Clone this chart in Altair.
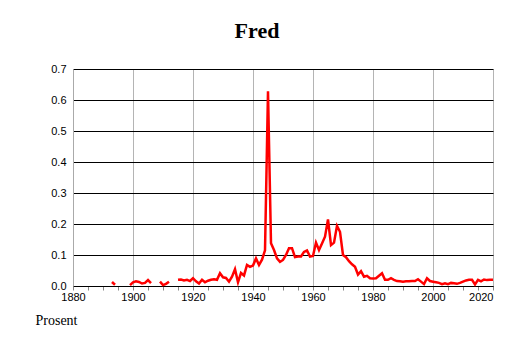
import altair as alt
import pandas as pd

# Segments of the series (gaps between them are missing years)
years_a = [1893, 1894]
vals_a = [0.013, 0.004]

years_b = [1899, 1900, 1901, 1902, 1903, 1904, 1905, 1906]
vals_b = [0.003, 0.012, 0.015, 0.013, 0.008, 0.010, 0.019, 0.009]

years_c = [1909, 1910, 1911, 1912]
vals_c = [0.014, 0.003, 0.007, 0.014]

years_d = list(range(1915, 2021))
vals_d = [
    0.020, 0.021, 0.018, 0.020, 0.016,                                  # 1915-1919
    0.025, 0.015, 0.008, 0.020, 0.012, 0.017, 0.020, 0.022, 0.020, 0.041,  # 1920s
    0.028, 0.026, 0.014, 0.030, 0.054, 0.012, 0.042, 0.034, 0.068, 0.062,  # 1930s
    0.066, 0.089, 0.068, 0.085, 0.115, 0.628, 0.138, 0.116, 0.089, 0.078,  # 1940s
    0.084, 0.100, 0.122, 0.122, 0.093, 0.095, 0.095, 0.110, 0.115, 0.095,  # 1950s
    0.097, 0.140, 0.116, 0.137, 0.159, 0.215, 0.132, 0.140, 0.194, 0.175,  # 1960s
    0.100, 0.093, 0.080, 0.070, 0.062, 0.037, 0.048, 0.030, 0.033, 0.025,  # 1970s
    0.024, 0.025, 0.033, 0.041, 0.020, 0.020, 0.025, 0.020, 0.016, 0.015,  # 1980s
    0.014, 0.015, 0.015, 0.016, 0.016, 0.022, 0.014, 0.006, 0.025, 0.016,  # 1990s
    0.014, 0.012, 0.010, 0.006, 0.009, 0.006, 0.010, 0.009, 0.007, 0.010,  # 2000s
    0.014, 0.018, 0.020, 0.020, 0.005, 0.020, 0.015, 0.021, 0.019, 0.020,  # 2010s
    0.020,                                                              # 2020
]

x_ticks = list(range(1880, 2021, 5))
y_ticks = [0.0, 0.1, 0.2, 0.3, 0.4, 0.5, 0.6, 0.7]

rows = []
for seg, (ys, vs) in enumerate([(years_a, vals_a), (years_b, vals_b),
                                (years_c, vals_c), (years_d, vals_d)]):
    for y, v in zip(ys, vs):
        rows.append({"year": y, "value": v, "seg": seg})
df = pd.DataFrame(rows)

chart = alt.Chart(df).mark_line(color="#ff0000", strokeWidth=2.5).encode(
    x=alt.X("year:Q",
            scale=alt.Scale(domain=[1880, 2020], nice=False, zero=False),
            axis=alt.Axis(values=x_ticks, title=None,
                          labelExpr="datum.value % 20 == 0 ? datum.label : ''",
                          labelAlign=alt.expr("datum.value == 2020 ? 'right' : 'center'"),
                          format="d",
                          gridColor="#b4b4b4",
                          gridOpacity=alt.expr("datum.value % 20 == 0 ? 1 : 0"),
                          tickColor="#888888", tickSize=4,
                          domainColor="#000000",
                          labelFont="Liberation Sans", labelFontSize=11,
                          labelColor="#000000", labelPadding=1)),
    y=alt.Y("value:Q",
            scale=alt.Scale(domain=[0, 0.7], nice=False),
            axis=alt.Axis(values=y_ticks, format=".1f",
                          title="Prosent", titleAngle=0, titleAlign="left",
                          titleBaseline="alphabetic",
                          titleX=-38, titleY=255,
                          titleFont="Liberation Serif", titleFontSize=14,
                          titleFontWeight="normal", titleColor="#000000",
                          gridColor="#000000", gridOpacity=1,
                          ticks=False, domainColor="#aaaaaa",
                          labelFont="Liberation Sans", labelFontSize=11,
                          labelColor="#000000", labelPadding=7)),
    detail="seg:N",
).properties(
    width=420,
    height=217,
    title=alt.TitleParams("Fred", font="Liberation Serif", fontSize=22,
                          fontWeight="bold", color="#000000",
                          anchor="middle", dx=-26, offset=20),
    autosize=alt.AutoSizeParams(type="none"),
    padding={"left": 65, "top": 61, "right": 5, "bottom": 46},
).configure_view(strokeWidth=0).configure(background="#ffffff")

chart.save("out.html", embed_options={"renderer": "svg", "actions": False})
